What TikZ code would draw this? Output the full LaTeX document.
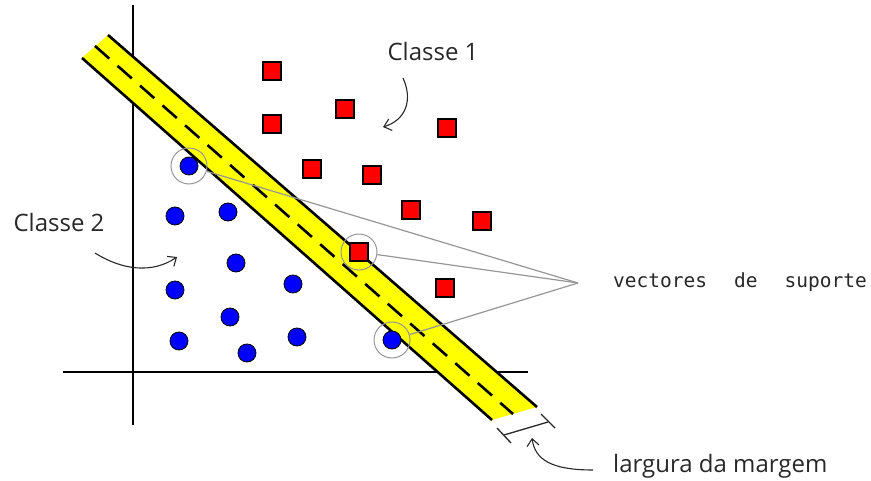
\documentclass[tikz,border=0pt]{standalone}
\usepackage{fontspec}
\setmainfont{Open Sans}
\newfontfamily\monofont{DejaVu Sans Mono}
\usetikzlibrary{arrows.meta}
\definecolor{bandyellow}{RGB}{255,255,0}
\definecolor{ptred}{RGB}{255,0,0}
\definecolor{ptblue}{RGB}{0,0,255}
\definecolor{ringgray}{RGB}{150,150,150}
\definecolor{txt}{RGB}{40,40,40}
\begin{document}
\begin{tikzpicture}[x=1pt,y=-1pt,
  redsq/.style={draw=black,line width=1.2pt,fill=ptred,minimum size=18pt,inner sep=0pt,rectangle},
  bluedot/.style={draw=black,line width=0.8pt,fill=ptblue,circle,minimum size=18pt,inner sep=0pt},
  svring/.style={draw=ringgray,line width=1pt,circle,minimum size=36pt,inner sep=0pt},
  svline/.style={draw=ringgray,line width=1.2pt},
  axisline/.style={draw=black,line width=1.5pt},
  bandedge/.style={draw=black,line width=2.6pt},
  label/.style={text=txt,font=\fontsize{24}{28}\selectfont,inner sep=0pt},
  handarrow/.style={draw=txt,line width=1.1pt,-{Straight Barb[length=7pt,width=12pt]}},
]
\useasboundingbox (0,0) rectangle (871,481);
% axes
\coordinate (yaxT) at (133,5);
\coordinate (yaxB) at (133,425);
\coordinate (xaxL) at (63,372);
\coordinate (xaxR) at (528,372);
\draw[axisline] (yaxT) -- (yaxB);
\draw[axisline] (xaxL) -- (xaxR);
% band
\coordinate (bA) at (108,35);
\coordinate (bB) at (537,407);
\coordinate (bC) at (492,420);
\coordinate (bD) at (82,58);
\fill[bandyellow] (bA) -- (bB) -- (bC) -- (bD) -- cycle;
\draw[bandedge] (bA) -- (bB);
\draw[bandedge] (bD) -- (bC);
\coordinate (mA) at (95,46);
\coordinate (mB) at (513,414);
\draw[black,line width=2.6pt,dash pattern=on 19pt off 11pt] (mA) -- (mB);
% class 1
\node[redsq] (r1) at (272,71) {};
\node[redsq] (r2) at (345,109) {};
\node[redsq] (r3) at (272,124) {};
\node[redsq] (r4) at (447,128) {};
\node[redsq] (r5) at (312,169) {};
\node[redsq] (r6) at (372,175) {};
\node[redsq] (r7) at (411,210) {};
\node[redsq] (r8) at (482,221) {};
\node[redsq] (r9) at (359,252) {};
\node[redsq] (r10) at (445,288) {};
% class 2
\node[bluedot] (c1) at (175,216) {};
\node[bluedot] (c2) at (228,212) {};
\node[bluedot] (c3) at (236,263) {};
\node[bluedot] (c4) at (175,290) {};
\node[bluedot] (c5) at (293,284) {};
\node[bluedot] (c6) at (230,317) {};
\node[bluedot] (c7) at (179,341) {};
\node[bluedot] (c8) at (247,353) {};
\node[bluedot] (c9) at (297,337) {};
\node[bluedot] (c10) at (189,166) {};
\node[bluedot] (c11) at (392,340) {};
% support vector rings
\node[svring] (s1) at (189,166) {};
\node[svring] (s2) at (359,252) {};
\node[svring] (s3) at (392,340) {};
\coordinate (conv) at (578,283);
\draw[svline] (s1) -- (conv);
\draw[svline] (s2) -- (conv);
\draw[svline] (s3) -- (conv);
% labels
\node[label] (l1) at (433,52) {Classe 1};
\node[label] (l2) at (59,223) {Classe 2};
\node[label,anchor=west,font=\monofont\fontsize{19.5}{24}\selectfont] (l3) at (613,282) {vectores\hspace{27pt}de\hspace{27pt}suporte};
\node[label,anchor=west] (l4) at (613,466) {largura da margem};
% hand arrows
\coordinate (a1s) at (403,78);
\coordinate (a1e) at (383,127);
\draw[handarrow] (a1s) .. controls (413,100) and (406,120) .. (a1e);
\coordinate (a2s) at (95,253);
\coordinate (a2e) at (177,257);
\draw[handarrow] (a2s) .. controls (122,270) and (152,274) .. (a2e);
\coordinate (a3s) at (593,470);
\coordinate (a3e) at (532,438);
\draw[handarrow] (a3s) .. controls (552,470) and (535,460) .. (a3e);
% margin width marker
\coordinate (wL) at (504,435);
\coordinate (wR) at (548,422);
\coordinate (tL1) at (497,428);
\coordinate (tL2) at (511,443);
\coordinate (tR1) at (541,414);
\coordinate (tR2) at (555,428);
\draw[txt,line width=1.3pt] (wL) -- (wR);
\draw[txt,line width=1.3pt] (tL1) -- (tL2);
\draw[txt,line width=1.3pt] (tR1) -- (tR2);
\end{tikzpicture}
\end{document}
